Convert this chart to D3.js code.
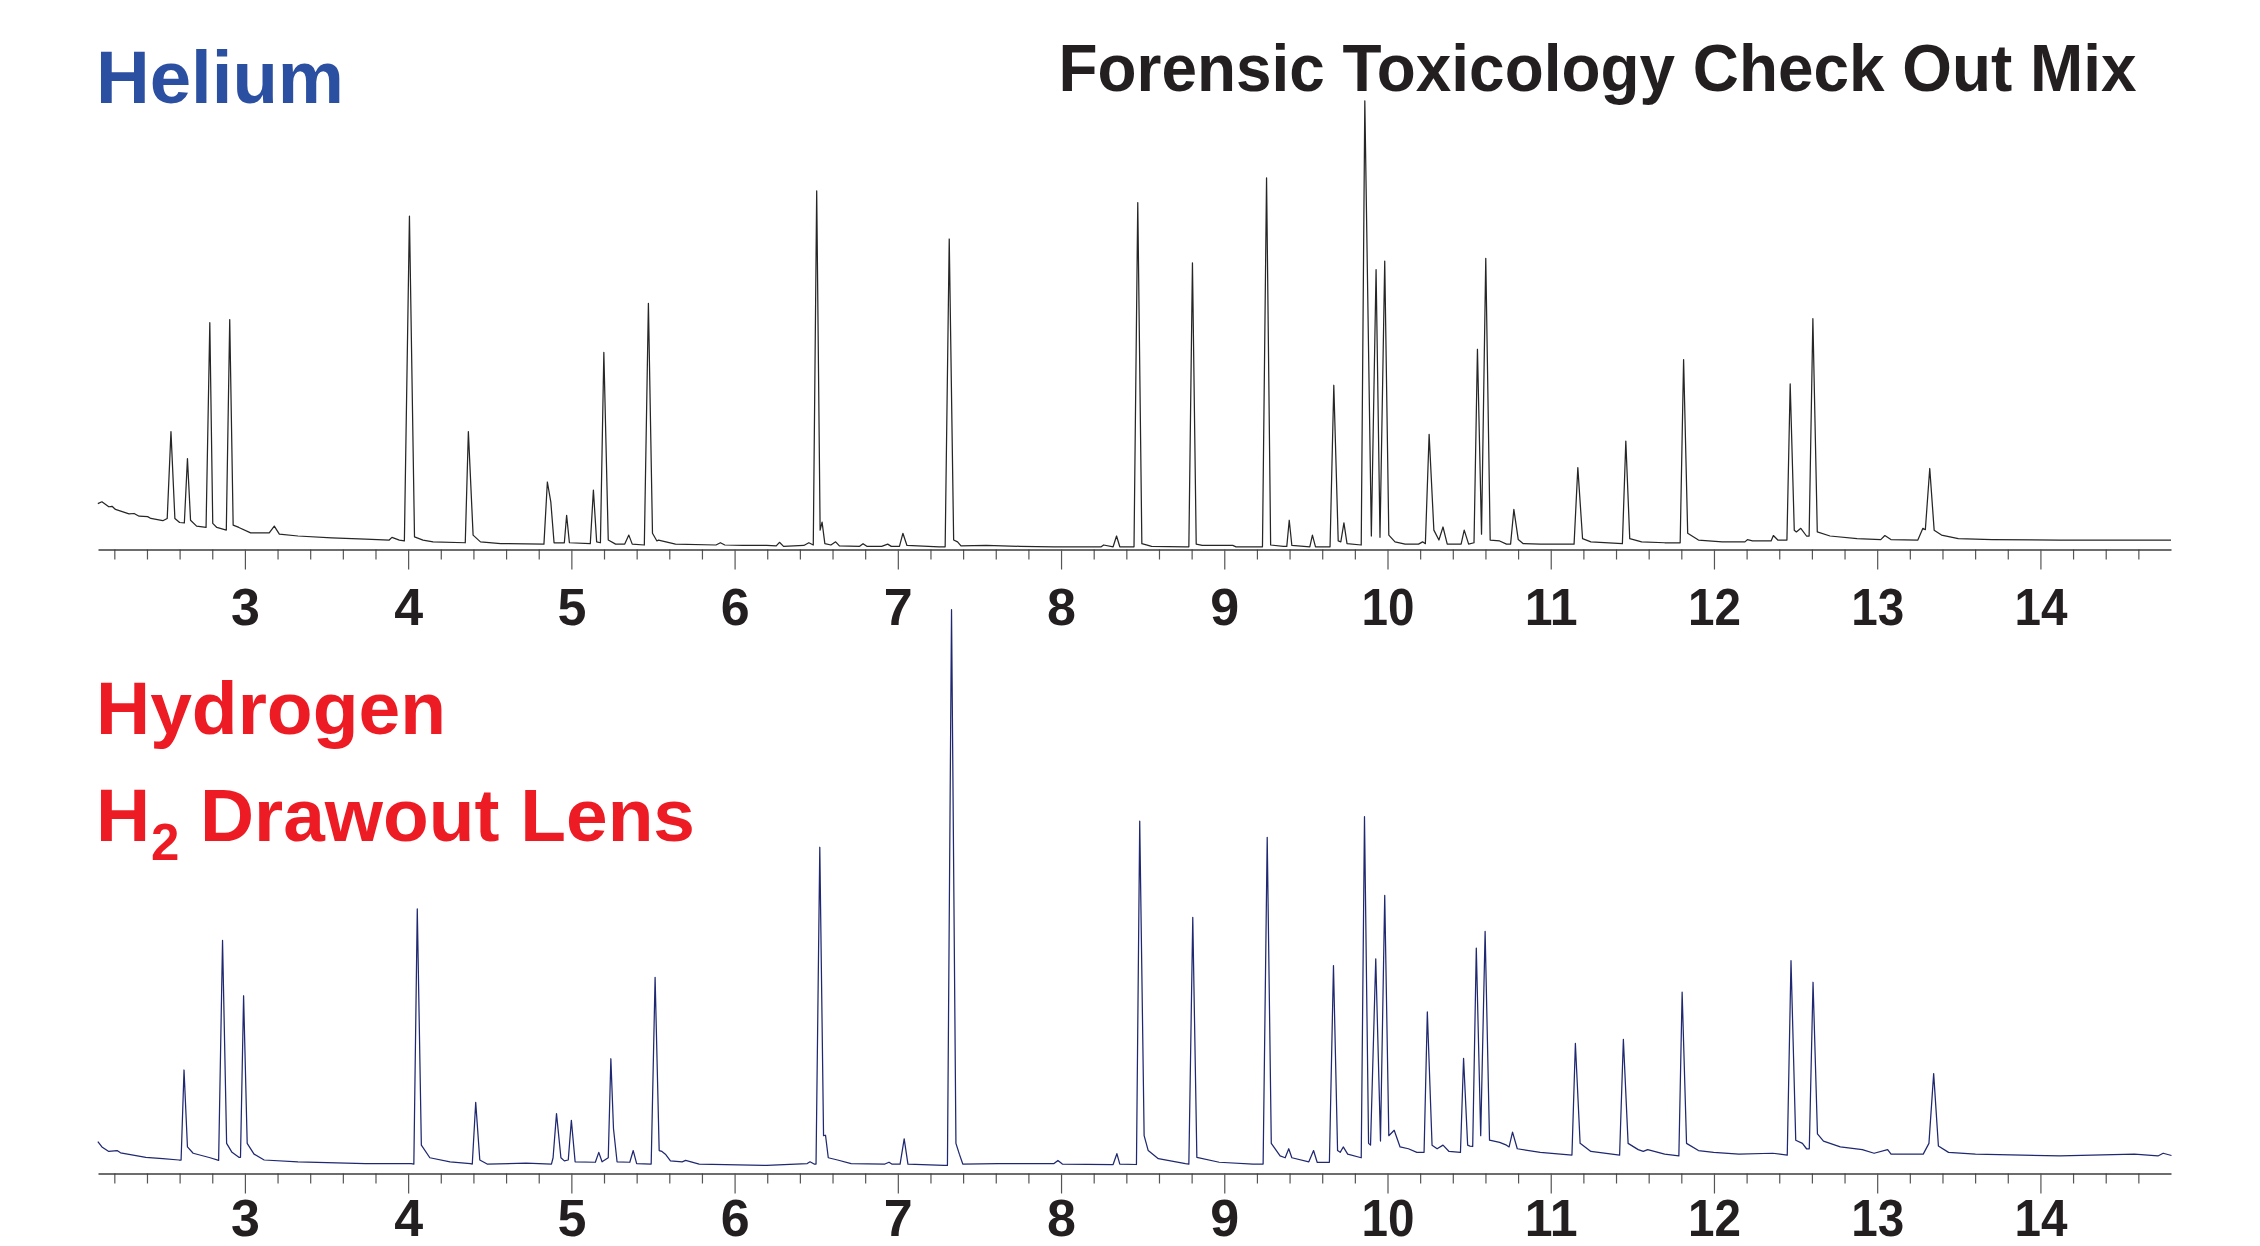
<!DOCTYPE html>
<html>
<head>
<meta charset="utf-8">
<script src="https://cdn.jsdelivr.net/npm/d3@7"></script>
<style>
html,body{margin:0;padding:0;background:#fff;}
svg{display:block;}
</style>
</head>
<body>
<svg id="chart" width="2260" height="1246"></svg>
<script>
// Retention time (min) and relative abundance
const heliumTrace = [[2.099,10.2],[2.124,10.6],[2.166,9.5],[2.186,9.6],[2.207,8.9],[2.290,7.9],[2.321,8.0],[2.352,7.4],[2.404,7.3],[2.424,6.9],[2.497,6.4],[2.524,6.9],[2.547,26.2],[2.571,6.9],[2.600,6.0],[2.629,5.9],[2.648,20.2],[2.667,6.5],[2.704,5.2],[2.762,4.9],[2.785,50.4],[2.803,5.8],[2.828,4.9],[2.886,4.3],[2.907,51.1],[2.928,5.4],[2.963,4.9],[3.035,3.7],[3.149,3.7],[3.180,5.2],[3.211,3.4],[3.325,3.0],[3.532,2.6],[3.739,2.3],[3.884,2.1],[3.901,2.7],[3.946,2.1],[3.977,1.9],[4.008,74.1],[4.039,2.8],[4.091,2.1],[4.153,1.7],[4.350,1.5],[4.369,26.2],[4.398,3.2],[4.443,1.7],[4.567,1.3],[4.832,1.2],[4.853,15.0],[4.874,10.6],[4.894,1.5],[4.957,1.5],[4.971,7.6],[4.988,1.5],[5.116,1.3],[5.135,13.2],[5.155,1.7],[5.178,1.5],[5.199,43.8],[5.226,2.1],[5.271,1.2],[5.327,1.2],[5.352,3.2],[5.373,1.2],[5.447,1.0],[5.472,54.7],[5.497,3.6],[5.524,1.9],[5.534,2.1],[5.638,1.2],[5.886,1.0],[5.913,1.5],[5.940,1.0],[6.052,0.9],[6.197,0.9],[6.255,0.8],[6.275,1.6],[6.300,0.7],[6.424,0.9],[6.455,1.5],[6.482,1.0],[6.503,79.7],[6.524,4.3],[6.536,6.1],[6.553,1.3],[6.590,1.0],[6.619,1.7],[6.642,0.8],[6.766,0.7],[6.787,1.3],[6.810,0.7],[6.901,0.7],[6.938,1.2],[6.960,0.7],[7.010,0.7],[7.031,3.6],[7.056,0.9],[7.253,0.6],[7.290,0.6],[7.315,69.0],[7.342,2.1],[7.366,1.7],[7.387,0.8],[7.542,0.9],[7.749,0.7],[7.957,0.6],[8.246,0.6],[8.261,1.0],[8.319,0.6],[8.340,3.0],[8.360,0.6],[8.447,0.6],[8.470,77.1],[8.495,1.3],[8.555,0.7],[8.762,0.6],[8.783,0.6],[8.805,63.7],[8.828,1.2],[8.865,0.9],[9.052,0.9],[9.072,0.6],[9.234,0.6],[9.259,82.6],[9.284,1.0],[9.362,0.7],[9.383,0.7],[9.398,6.5],[9.414,0.9],[9.524,0.6],[9.540,3.2],[9.559,0.6],[9.648,0.6],[9.671,36.5],[9.698,1.9],[9.714,1.7],[9.733,5.9],[9.752,1.3],[9.839,1.0],[9.861,99.7],[9.901,3.0],[9.930,62.2],[9.954,2.7],[9.983,64.1],[10.008,3.2],[10.046,1.7],[10.108,1.2],[10.190,1.2],[10.215,1.7],[10.232,1.3],[10.255,25.6],[10.284,4.3],[10.315,2.1],[10.340,5.0],[10.366,1.2],[10.451,1.2],[10.470,4.3],[10.497,1.2],[10.530,1.5],[10.551,44.5],[10.576,3.4],[10.602,64.7],[10.629,2.1],[10.687,1.9],[10.729,1.2],[10.754,1.2],[10.774,8.9],[10.801,2.2],[10.832,1.3],[10.936,1.2],[11.143,1.2],[11.166,18.2],[11.195,2.4],[11.246,1.7],[11.439,1.3],[11.460,24.1],[11.484,2.4],[11.557,1.7],[11.698,1.5],[11.793,1.5],[11.814,42.2],[11.839,3.6],[11.905,2.1],[12.050,1.7],[12.190,1.7],[12.205,2.2],[12.236,1.9],[12.350,1.9],[12.364,3.1],[12.391,2.1],[12.447,2.1],[12.467,36.8],[12.492,4.3],[12.505,3.9],[12.532,4.7],[12.567,3.0],[12.583,3.0],[12.606,51.3],[12.633,3.9],[12.711,3.0],[12.877,2.4],[13.022,2.2],[13.047,3.1],[13.084,2.2],[13.249,2.1],[13.280,4.7],[13.295,4.4],[13.322,18.0],[13.349,4.3],[13.394,3.2],[13.497,2.4],[13.704,2.2],[14.118,2.1],[14.532,2.1],[14.800,2.1]];

const hydrogenTrace = [[2.099,7.1],[2.124,5.9],[2.166,4.9],[2.217,5.1],[2.238,4.6],[2.393,3.6],[2.497,3.3],[2.596,3.0],[2.609,3.0],[2.627,23.0],[2.648,5.9],[2.683,4.5],[2.787,3.5],[2.839,2.9],[2.863,51.8],[2.888,6.7],[2.921,4.7],[2.963,3.6],[2.973,3.6],[2.992,39.5],[3.014,6.7],[3.056,4.3],[3.118,3.0],[3.325,2.6],[3.739,2.2],[4.019,2.2],[4.035,2.1],[4.056,58.8],[4.081,6.3],[4.133,3.5],[4.257,2.6],[4.381,2.2],[4.393,2.1],[4.414,15.8],[4.439,3.0],[4.484,2.1],[4.723,2.3],[4.878,2.1],[4.888,3.5],[4.909,13.3],[4.936,3.5],[4.957,2.8],[4.981,3.0],[5.000,11.8],[5.023,2.6],[5.147,2.5],[5.168,4.7],[5.188,2.6],[5.226,3.5],[5.242,25.5],[5.258,10.0],[5.280,2.6],[5.358,2.5],[5.379,5.1],[5.400,2.2],[5.489,2.1],[5.513,43.6],[5.538,5.1],[5.555,4.9],[5.576,4.3],[5.607,2.8],[5.679,2.6],[5.700,2.9],[5.783,2.1],[6.197,1.8],[6.445,2.2],[6.462,2.6],[6.487,2.1],[6.499,2.1],[6.522,72.5],[6.545,8.4],[6.557,8.5],[6.574,3.5],[6.631,3.0],[6.714,2.2],[6.921,2.1],[6.946,2.5],[6.963,2.1],[7.014,2.1],[7.039,7.7],[7.062,2.1],[7.284,1.8],[7.304,1.8],[7.329,125.3],[7.356,6.7],[7.377,4.3],[7.398,2.1],[7.615,2.2],[7.957,2.2],[7.981,2.9],[8.008,2.1],[8.319,2.0],[8.342,4.4],[8.360,2.1],[8.462,2.0],[8.482,78.3],[8.509,8.4],[8.534,5.1],[8.596,3.3],[8.762,2.2],[8.783,2.1],[8.807,56.9],[8.832,3.6],[8.969,2.5],[9.176,2.1],[9.238,2.1],[9.263,74.7],[9.288,6.7],[9.342,3.9],[9.373,3.5],[9.395,5.5],[9.414,3.5],[9.518,2.6],[9.547,5.1],[9.569,2.5],[9.644,2.5],[9.669,46.2],[9.694,5.1],[9.710,4.7],[9.729,5.9],[9.756,4.3],[9.839,3.5],[9.859,79.3],[9.884,6.7],[9.896,6.3],[9.928,47.7],[9.957,7.2],[9.983,61.8],[10.008,8.4],[10.041,9.6],[10.077,5.9],[10.128,5.5],[10.180,4.7],[10.224,4.7],[10.244,35.9],[10.273,6.3],[10.304,5.5],[10.340,6.3],[10.377,4.9],[10.447,4.7],[10.466,25.6],[10.491,6.3],[10.505,6.1],[10.522,6.0],[10.544,50.1],[10.571,8.4],[10.598,53.8],[10.625,7.4],[10.687,6.9],[10.729,6.3],[10.745,5.9],[10.766,9.2],[10.795,5.5],[10.936,4.7],[11.130,4.1],[11.151,28.9],[11.180,6.7],[11.246,4.9],[11.422,4.1],[11.445,29.8],[11.474,6.7],[11.536,5.3],[11.567,4.9],[11.594,5.3],[11.698,4.3],[11.785,3.9],[11.805,40.3],[11.832,6.7],[11.905,5.1],[11.998,4.7],[12.153,4.3],[12.360,4.5],[12.449,4.1],[12.472,47.3],[12.501,7.4],[12.542,6.7],[12.567,5.5],[12.584,5.5],[12.607,42.5],[12.634,8.8],[12.671,7.2],[12.774,5.9],[12.909,5.3],[12.981,4.5],[13.064,5.3],[13.085,4.3],[13.282,4.3],[13.317,6.7],[13.346,22.2],[13.375,6.1],[13.437,4.7],[13.602,4.3],[14.120,3.9],[14.576,4.3],[14.720,3.9],[14.752,4.5],[14.803,4.0]];

const timeDomain = [2.1, 14.8];
const majorTicks = [3, 4, 5, 6, 7, 8, 9, 10, 11, 12, 13, 14];
const tickLabels = ["3", "4", "5", "6", "7", "8", "9", "10", "11", "12", "13", "14"];
const minorTicks = d3.range(11, 74).map(i => i / 5).filter(t => Math.abs(t - Math.round(t)) > 1e-6);

const FONT = "'Liberation Sans', Arial, Helvetica, sans-serif";
const svg = d3.select("#chart");

const x = d3.scaleLinear().domain(timeDomain).range([98, 2171]);

const panels = [
  { trace: heliumTrace, axisY: 549.5, topY: 99.5, color: "#262626", labelY: 75.5 },
  { trace: hydrogenTrace, axisY: 1173.5, topY: 723.5, color: "#1f2870", labelY: 62 }
];

panels.forEach(p => {
  const y = d3.scaleLinear().domain([0, 100]).range([p.axisY, p.topY]);
  const g = svg.append("g");

  const minorAxis = d3.axisBottom(x).tickValues(minorTicks).tickSize(10).tickSizeOuter(0).tickFormat("");
  const gm = g.append("g").attr("transform", `translate(0,${p.axisY})`).call(minorAxis);
  gm.select(".domain").remove();
  gm.selectAll(".tick line").attr("stroke", "#555").attr("stroke-width", 1.2);

  const majorAxis = d3.axisBottom(x).tickValues(majorTicks).tickSize(20).tickSizeOuter(0)
    .tickFormat((d, i) => tickLabels[i]);
  const ga = g.append("g").attr("transform", `translate(0,${p.axisY})`).call(majorAxis);
  ga.attr("font-family", FONT).attr("font-size", 52).attr("font-weight", 700);
  ga.select(".domain").attr("stroke", "#3c3c3c").attr("stroke-width", 1.6);
  ga.selectAll(".tick line").attr("stroke", "#555").attr("stroke-width", 1.2);
  ga.selectAll(".tick text")
    .attr("y", p.labelY).attr("dy", null)
    .attr("fill", "#231f20")
    .each(function(d, i) {
      const s = tickLabels[i];
      if (s.length > 1) d3.select(this).attr("textLength", 53).attr("lengthAdjust", "spacingAndGlyphs");
    });

  const line = d3.line().x(d => x(d[0])).y(d => y(d[1]));
  g.append("path")
    .datum(p.trace)
    .attr("d", line)
    .attr("fill", "none")
    .attr("stroke", p.color)
    .attr("stroke-width", 1.25)
    .attr("stroke-linejoin", "round");
});

// Titles
svg.append("text").text("Helium")
  .attr("x", 96).attr("y", 103.3)
  .attr("font-family", FONT).attr("font-weight", 700).attr("font-size", 75)
  .attr("fill", "#2b4fa1")
  .attr("textLength", 248).attr("lengthAdjust", "spacingAndGlyphs");

svg.append("text").text("Forensic Toxicology Check Out Mix")
  .attr("x", 1058.5).attr("y", 90.6)
  .attr("font-family", FONT).attr("font-weight", 700).attr("font-size", 66)
  .attr("fill", "#231f20")
  .attr("textLength", 1078).attr("lengthAdjust", "spacingAndGlyphs");

svg.append("text").text("Hydrogen")
  .attr("x", 96).attr("y", 734)
  .attr("font-family", FONT).attr("font-weight", 700).attr("font-size", 75)
  .attr("fill", "#ed1c24")
  .attr("textLength", 350).attr("lengthAdjust", "spacingAndGlyphs");

svg.append("text").text("H")
  .attr("x", 96).attr("y", 841)
  .attr("font-family", FONT).attr("font-weight", 700).attr("font-size", 75)
  .attr("fill", "#ed1c24");

svg.append("text").text("2")
  .attr("x", 151).attr("y", 860)
  .attr("font-family", FONT).attr("font-weight", 700).attr("font-size", 51)
  .attr("fill", "#ed1c24");

svg.append("text").text("Drawout Lens")
  .attr("x", 200).attr("y", 841)
  .attr("font-family", FONT).attr("font-weight", 700).attr("font-size", 75)
  .attr("fill", "#ed1c24")
  .attr("textLength", 495).attr("lengthAdjust", "spacingAndGlyphs");
</script>
</body>
</html>
